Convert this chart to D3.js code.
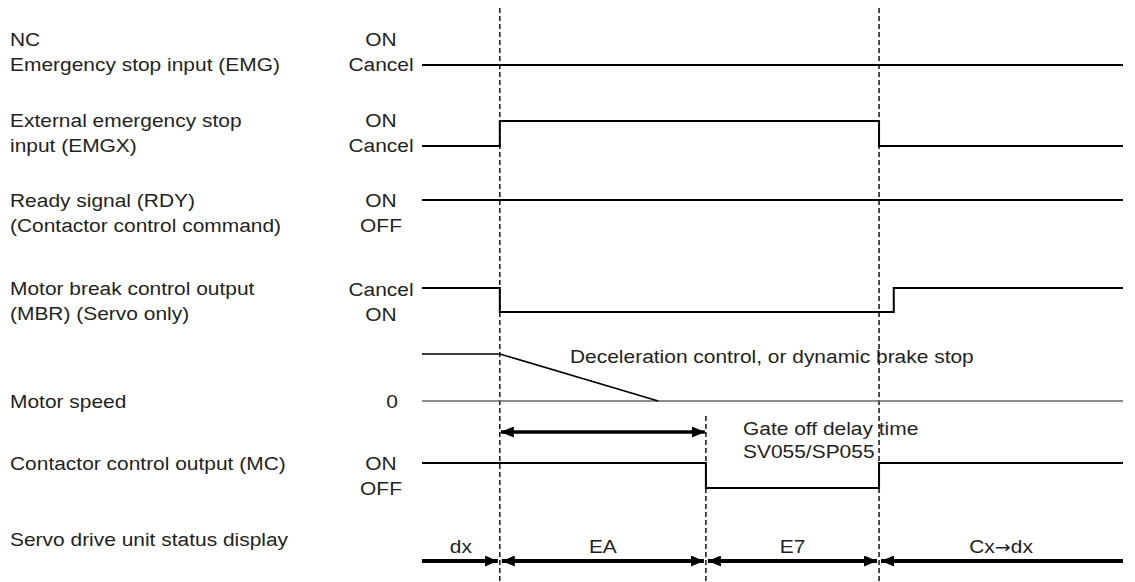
<!DOCTYPE html>
<html>
<head>
<meta charset="utf-8">
<script src="https://cdn.jsdelivr.net/npm/d3@7/dist/d3.min.js"></script>
<style>
  html, body { margin: 0; padding: 0; background: #fff; }
  svg { display: block; }
  text { font-family: "Liberation Sans", Arial, Helvetica, sans-serif; font-size: 18.7px; fill: #231f20; }
  tspan.arrow { font-family: "DejaVu Sans", sans-serif; font-size: 17px; }
</style>
</head>
<body>
<svg id="chart" width="1135" height="582"></svg>
<script>
// ---------- DATA ----------
const rowLabels = [
  ["NC", "Emergency stop input (EMG)"],
  ["External emergency stop", "input (EMGX)"],
  ["Ready signal (RDY)", "(Contactor control command)"],
  ["Motor break control output", "(MBR) (Servo only)"],
  ["Motor speed"],
  ["Contactor control output (MC)"],
  ["Servo drive unit status display"]
];
const stateLabels = [
  ["ON", "Cancel"],
  ["ON", "Cancel"],
  ["ON", "OFF"],
  ["Cancel", "ON"],
  ["0"],
  ["ON", "OFF"],
  []
];
// waveforms: [time, level]  (level 1 = upper state, 0 = lower state)
const emgWave   = [[0, 0], [100, 0]];
const emgxWave  = [[0, 0], [11.1, 1], [65.2, 0], [100, 0]];
const rdyWave   = [[0, 1], [100, 1]];
const mbrWave   = [[0, 1], [11.1, 0], [67.3, 1], [100, 1]];
const speedWave = [[0, 1], [11.1, 1], [33.7, 0]];
const speedZero = [[0, 0], [100, 0]];
const mcWave    = [[0, 1], [40.5, 0], [65.2, 1], [100, 1]];
const eventTimes = [11.1, 65.2];          // full-height dashed markers
const gateOffTime = [40.5];               // lower dashed marker
const gateDelay = [11.1, 40.5];           // gate off delay span
const statusTimes = [0, 11.1, 40.5, 65.2, 100];
const statusCodes = ["dx", "EA", "E7", "Cx→dx"];
const notes = {
  decel: "Deceleration control, or dynamic brake stop",
  gate: ["Gate off delay time", "SV055/SP055"]
};

// ---------- LAYOUT ----------
const svg = d3.select("#chart");
const x = d3.scaleLinear().domain([0, 100]).range([422, 1123]);
const SX = 1.12;      // horizontal text stretch
const labelX = 10, stateX = 381, lineGap = 24.5;
// per row: first-label baseline, upper level y, lower level y
const rowBase = [46, 127, 207, 295, 408, 470, 546];
const rowLevels = [[40, 65], [121, 146], [200, 225], [288, 312], [354, 401], [463, 488]];
const statusY = 561;

function txt(g, px, py, s, anchor) {
  const t = g.append("text")
    .attr("transform", `translate(${px},${py}) scale(${SX},1)`)
    .attr("text-anchor", anchor || "start");
  const parts = s.split("→");
  parts.forEach((p, i) => {
    if (i > 0) t.append("tspan").attr("class", "arrow").text("→");
    t.append("tspan").text(p);
  });
  return t;
}

// markers
const defs = svg.append("defs");
defs.append("marker").attr("id", "head")
  .attr("viewBox", "0 0 13 11").attr("refX", 13).attr("refY", 5.5)
  .attr("markerWidth", 13).attr("markerHeight", 11)
  .attr("markerUnits", "userSpaceOnUse")
  .attr("orient", "auto-start-reverse")
  .append("path").attr("d", "M0,0 L13,5.5 L0,11 Z").attr("fill", "#000");

const gLabels = svg.append("g");
rowLabels.forEach((lines, i) => {
  lines.forEach((s, j) => txt(gLabels, labelX, rowBase[i] + j * lineGap, s, "start"));
});
stateLabels.forEach((lines, i) => {
  lines.forEach((s, j) => {
    const px = s === "0" ? 392 : stateX;
    txt(gLabels, px, rowBase[i] + j * lineGap + (i === 3 ? 1 : 0), s, "middle");
  });
});

// dashed event markers
const gDash = svg.append("g").attr("stroke", "#000").attr("stroke-width", 1.4)
  .attr("stroke-dasharray", "5,3");
gDash.selectAll("line.full").data(eventTimes).join("line").attr("class", "full")
  .attr("x1", d => x(d)).attr("x2", d => x(d)).attr("y1", 8).attr("y2", 582);
gDash.selectAll("line.part").data(gateOffTime).join("line").attr("class", "part")
  .attr("x1", d => x(d)).attr("x2", d => x(d)).attr("y1", 416).attr("y2", 582);

// waveforms
function drawWave(data, row, curve, width, color) {
  const [yHi, yLo] = rowLevels[row];
  const y = d3.scaleLinear().domain([0, 1]).range([yLo, yHi]);
  const line = d3.line().x(d => x(d[0])).y(d => y(d[1])).curve(curve);
  svg.append("path").datum(data).attr("d", line)
    .attr("fill", "none").attr("stroke", color || "#000")
    .attr("stroke-width", width || 2).attr("stroke-linejoin", "miter");
}
drawWave(emgWave, 0, d3.curveStepAfter);
drawWave(emgxWave, 1, d3.curveStepAfter);
drawWave(rdyWave, 2, d3.curveStepAfter);
drawWave(mbrWave, 3, d3.curveStepAfter);
drawWave(speedZero, 4, d3.curveLinear, 1.6, "#666");
drawWave(speedWave, 4, d3.curveLinear, 1.6);
drawWave(mcWave, 5, d3.curveStepAfter);

// notes
txt(svg, 570, 363, notes.decel, "start");
notes.gate.forEach((s, j) => txt(svg, 743, 435 + j * 23, s, "start"));

// gate off delay double arrow
svg.append("line")
  .attr("x1", x(gateDelay[0]) + 1).attr("x2", x(gateDelay[1]) - 1)
  .attr("y1", 432).attr("y2", 432)
  .attr("stroke", "#000").attr("stroke-width", 3.5)
  .attr("marker-start", "url(#head)").attr("marker-end", "url(#head)");

// status display segments
const segs = statusCodes.map((c, i) => ({
  code: c, t0: statusTimes[i], t1: statusTimes[i + 1],
  headStart: i > 0, headEnd: i < statusCodes.length - 1
}));
const gStat = svg.append("g");
gStat.selectAll("line").data(segs).join("line")
  .attr("x1", d => x(d.t0) + (d.headStart ? 2 : 0))
  .attr("x2", d => x(d.t1) - (d.headEnd ? 2 : 0))
  .attr("y1", statusY).attr("y2", statusY)
  .attr("stroke", "#000").attr("stroke-width", 4)
  .attr("marker-start", d => d.headStart ? "url(#head)" : null)
  .attr("marker-end", d => d.headEnd ? "url(#head)" : null);
segs.forEach(d => txt(gStat, (x(d.t0) + x(d.t1)) / 2, 553, d.code, "middle"));
</script>
</body>
</html>
